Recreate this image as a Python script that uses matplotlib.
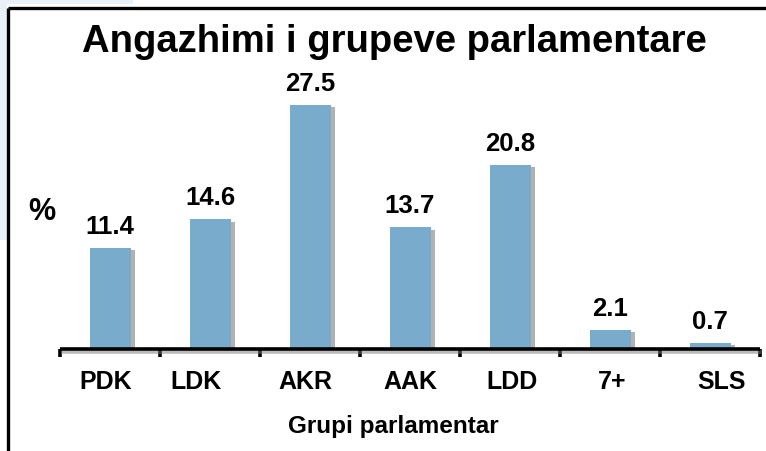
import matplotlib
matplotlib.use("Agg")
import matplotlib.pyplot as plt
import matplotlib.patheffects as pe
from matplotlib.patches import Rectangle
from matplotlib.lines import Line2D

categories = ["PDK", "LDK", "AKR", "AAK", "LDD", "7+", "SLS"]
values = [11.4, 14.6, 27.5, 13.7, 20.8, 2.1, 0.7]
value_labels = ["11.4", "14.6", "27.5", "13.7", "20.8", "2.1", "0.7"]
label_shift = [-0.04, -0.14, -0.05, 0.0, 0.02, 0.02, 0.12]

W, H = 766, 451
plt.rcParams['font.family'] = ['Liberation Sans', 'DejaVu Sans']
fig = plt.figure(figsize=(W / 100, H / 100), dpi=100)
fig.patch.set_facecolor("white")

# pale slide background on the top-left edge
fig.patches.append(Rectangle((0, 1 - 240 / H), 7 / W, 240 / H, transform=fig.transFigure,
                             facecolor="#e9f0f8", edgecolor="none", zorder=0))
fig.patches.append(Rectangle((0, 1 - 4 / H), 133 / W, 4 / H, transform=fig.transFigure,
                             facecolor="#e9f0f8", edgecolor="none", zorder=0))
# black frame lines
fig.lines.append(Line2D([8 / W, 1], [1 - 8 / H, 1 - 8 / H], transform=fig.transFigure,
                        color="black", lw=2.4, solid_capstyle="butt"))
fig.lines.append(Line2D([8 / W, 8 / W], [0, 1 - 8 / H], transform=fig.transFigure,
                        color="black", lw=2.4, solid_capstyle="butt"))

base_y = 349
px_per_unit = 8.87
ymax = 30
ax_h = ymax * px_per_unit
ax = fig.add_axes([60 / W, (H - base_y) / H, 700 / W, ax_h / H])
ax.set_xlim(-0.5, len(categories) - 0.5)
ax.set_ylim(0, ymax)
ax.patch.set_alpha(0)

x = list(range(len(categories)))
bars = ax.bar(x, values, width=0.41, color="#79abcc", edgecolor="none", zorder=3)
for b in bars:
    b.set_path_effects([pe.SimplePatchShadow(offset=(3, -1.5), shadow_rgbFace="#555555", alpha=0.45),
                        pe.Normal()])

for xi, v, lab in zip(x, values, value_labels):
    ax.annotate(lab, (xi, v), xytext=(0, 9), textcoords="offset pixels",
                ha="center", va="bottom", fontsize=18.5, fontweight="bold", color="black")

for s in ["top", "right", "left"]:
    ax.spines[s].set_visible(False)
ax.spines["bottom"].set_linewidth(2.6)
ax.spines["bottom"].set_capstyle("butt")
ax.spines["bottom"].set_zorder(4)
ax.spines["bottom"].set_path_effects([pe.SimpleLineShadow(offset=(1, -2), shadow_color="#777777", alpha=0.5),
                                      pe.Normal()])
ax.set_yticks([])

ax.set_xticks([i - 0.5 for i in range(len(categories) + 1)])
ax.set_xticklabels([])
ax.tick_params(axis="x", which="major", direction="out", length=6, width=2.6, color="black")
ax.set_xticks([xi + s for xi, s in zip(x, label_shift)], minor=True)
ax.set_xticklabels(categories, minor=True, fontsize=18, fontweight="bold")
ax.tick_params(axis="x", which="minor", length=0, pad=15)

fig.text(394 / W, 1 - 42 / H, "Angazhimi i grupeve parlamentare", ha="center", va="center",
         fontsize=27.5, fontweight="bold", color="black")
fig.text(42 / W, 1 - 212 / H, "%", ha="center", va="center", fontsize=22, fontweight="bold")
fig.text(393 / W, 1 - 427 / H, "Grupi parlamentar", ha="center", va="center",
         fontsize=17.5, fontweight="bold")

fig.savefig("out.png", dpi=100)
